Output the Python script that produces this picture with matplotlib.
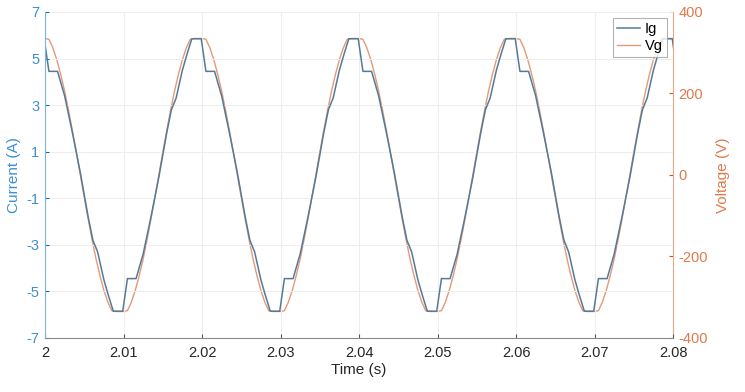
import numpy as np
import matplotlib
matplotlib.use("Agg")
import matplotlib.pyplot as plt

# ---- data ----
# grid current Ig: breakpoints, time in ms after t = 2 s
ig_ms = [-1.3, -0.1, 0.5, 1.6, 2.5, 3.5, 4.5, 5.5, 6.1, 6.7, 7.5, 8.1, 8.7,
         9.9, 10.5, 11.6, 12.5, 13.5, 14.5, 15.5, 16.1, 16.7, 17.5, 18.1, 18.7,
         19.9, 20.5, 21.6, 22.5, 23.5, 24.5, 25.5, 26.1, 26.7, 27.5, 28.1, 28.7,
         29.9, 30.5, 31.6, 32.5, 33.5, 34.5, 35.5, 36.1, 36.7, 37.5, 38.1, 38.7,
         39.9, 40.5, 41.6, 42.5, 43.5, 44.5, 45.5, 46.1, 46.7, 47.5, 48.1, 48.7,
         49.9, 50.5, 51.6, 52.5, 53.5, 54.5, 55.5, 56.1, 56.7, 57.5, 58.1, 58.7,
         59.9, 60.5, 61.6, 62.5, 63.5, 64.5, 65.5, 66.1, 66.7, 67.5, 68.1, 68.7,
         69.9, 70.5, 71.6, 72.5, 73.5, 74.5, 75.5, 76.1, 76.7, 77.5, 78.1, 78.7,
         79.9, 80.5]
ig_a = [5.85, 5.85, 4.45, 4.45, 3.4, 1.8, 0.1, -1.8, -2.8, -3.3, -4.5, -5.2, -5.85,
        -5.85, -4.45, -4.45, -3.4, -1.8, -0.1, 1.8, 2.8, 3.3, 4.5, 5.2, 5.85,
        5.85, 4.45, 4.45, 3.4, 1.8, 0.1, -1.8, -2.8, -3.3, -4.5, -5.2, -5.85,
        -5.85, -4.45, -4.45, -3.4, -1.8, -0.1, 1.8, 2.8, 3.3, 4.5, 5.2, 5.85,
        5.85, 4.45, 4.45, 3.4, 1.8, 0.1, -1.8, -2.8, -3.3, -4.5, -5.2, -5.85,
        -5.85, -4.45, -4.45, -3.4, -1.8, -0.1, 1.8, 2.8, 3.3, 4.5, 5.2, 5.85,
        5.85, 4.45, 4.45, 3.4, 1.8, 0.1, -1.8, -2.8, -3.3, -4.5, -5.2, -5.85,
        -5.85, -4.45, -4.45, -3.4, -1.8, -0.1, 1.8, 2.8, 3.3, 4.5, 5.2, 5.85,
        5.85, 4.45]

# grid voltage Vg sampled every 0.5 ms from t = 2 s
vg_v = [335, 333, 312, 283, 247, 206, 159, 108, 55, 0, -55, -108, -159, -206, -247, -283,
        -312, -333, -335, -335, -335, -333, -312, -283, -247, -206, -159, -108, -55, 0,
        55, 108, 159, 206, 247, 283, 312, 333, 335, 335,
        335, 333, 312, 283, 247, 206, 159, 108, 55, 0, -55, -108, -159, -206, -247, -283,
        -312, -333, -335, -335, -335, -333, -312, -283, -247, -206, -159, -108, -55, 0,
        55, 108, 159, 206, 247, 283, 312, 333, 335, 335,
        335, 333, 312, 283, 247, 206, 159, 108, 55, 0, -55, -108, -159, -206, -247, -283,
        -312, -333, -335, -335, -335, -333, -312, -283, -247, -206, -159, -108, -55, 0,
        55, 108, 159, 206, 247, 283, 312, 333, 335, 335,
        335, 333, 312, 283, 247, 206, 159, 108, 55, 0, -55, -108, -159, -206, -247, -283,
        -312, -333, -335, -335, -335, -333, -312, -283, -247, -206, -159, -108, -55, 0,
        55, 108, 159, 206, 247, 283, 312, 333, 335, 335,
        335]
vg_ms = np.arange(len(vg_v)) * 0.5

x_ticks = [2.0, 2.01, 2.02, 2.03, 2.04, 2.05, 2.06, 2.07, 2.08]
x_labels = ["2", "2.01", "2.02", "2.03", "2.04", "2.05", "2.06", "2.07", "2.08"]
i_ticks = [-7, -5, -3, -1, 1, 3, 5, 7]
v_ticks = [-400, -200, 0, 200, 400]

# ---- plot ----
plt.rcParams['font.family'] = ['Liberation Sans', 'DejaVu Sans']
plt.rcParams['axes.unicode_minus'] = False
BLUE = '#0072BD'
ORANGE = '#D95319'
AXG = '#262626'

fig = plt.figure(figsize=(7.45, 3.92), dpi=100)
ax = fig.add_axes([0.0604, 0.1378, 0.843, 0.8316])
ax2 = ax.twinx()
ax.set_zorder(ax2.get_zorder() + 1)
ax.patch.set_visible(False)

t_ig = 2 + np.array(ig_ms) / 1000.0
t_vg = 2 + vg_ms / 1000.0

lv, = ax2.plot(t_vg, vg_v, color='#e39a78', lw=1.0, label='Vg')
li, = ax.plot(t_ig, ig_a, color='#557a98', lw=1.1, label='Ig')

ax.set_xlim(2.0, 2.08)
ax.set_ylim(-7, 7)
ax2.set_ylim(-400, 400)
ax.set_xticks(x_ticks)
ax.set_xticklabels(x_labels)
ax.set_yticks(i_ticks)
ax2.set_yticks(v_ticks)

ax.grid(True, color='#ededed', lw=0.7)
ax.set_axisbelow(True)

fs = 10.5
ax.tick_params(axis='x', direction='in', length=3, colors='#5a5a5a', labelsize=fs, labelcolor=AXG, pad=6)
ax.tick_params(axis='y', direction='in', length=3, colors=BLUE, labelsize=fs, labelcolor='#3d8fd0', pad=4)
ax2.tick_params(axis='y', direction='in', length=3, colors=ORANGE, labelsize=fs, labelcolor='#e07a4a', pad=4)

for a in (ax, ax2):
    a.spines['top'].set_visible(False)
ax.spines['left'].set_color('#7fb3da')
ax.spines['right'].set_visible(False)
ax2.spines['left'].set_visible(False)
ax2.spines['right'].set_color('#e8a888')
ax.spines['bottom'].set_color('#8a8a8a')
ax2.spines['bottom'].set_visible(False)

ax.set_xlabel('Time (s)', fontsize=fs + 0.5, color=AXG, labelpad=2)
ax.set_ylabel('Current (A)', fontsize=fs + 0.5, color='#3d8fd0', labelpad=4)
ax2.set_ylabel('Voltage (V)', fontsize=fs + 0.5, color='#e07a4a', labelpad=6)

leg = ax.legend([li, lv], ['Ig', 'Vg'], loc='upper right', fontsize=fs,
                frameon=True, fancybox=False, edgecolor='#a0a0a0',
                handlelength=1.6, handletextpad=0.3, borderpad=0.3,
                labelspacing=0.2, borderaxespad=0.4)
leg.get_frame().set_linewidth(0.8)

fig.savefig('out.png', dpi=100)
